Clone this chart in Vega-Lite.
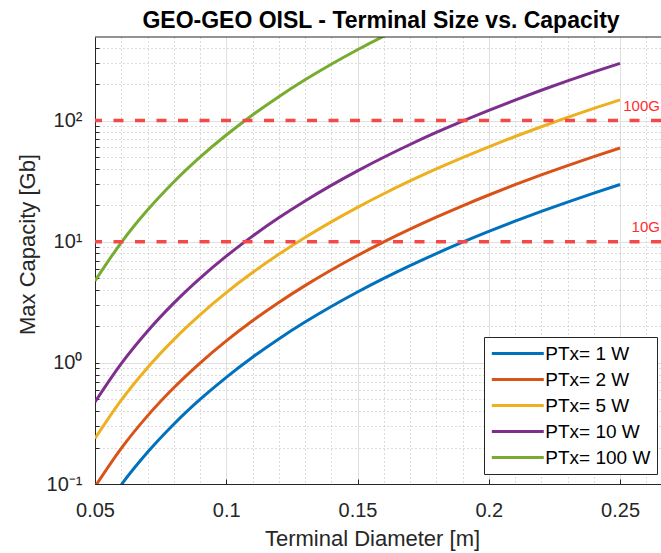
{
  "$schema": "https://vega.github.io/schema/vega-lite/v6.json",
  "width": 566,
  "height": 447,
  "autosize": {"type": "none"},
  "padding": {"left": 95, "top": 37, "right": 0, "bottom": 69},
  "background": "white",
  "title": {"text": "GEO-GEO OISL - Terminal Size vs. Capacity", "font": "Liberation Sans", "fontSize": 23, "fontWeight": "bold", "color": "#000000", "anchor": "middle", "frame": "group", "offset": 9, "baseline": "alphabetic", "dx": 3, "dy": 23},
  "config": {"view": {"stroke": null}, "font": "Liberation Sans", "axis": {"labelOverlap": false}},
  "resolve": {"axis": {"x": "independent", "y": "independent"}},
  "datasets": {
    "curves": [
      {"series": "PTx= 1 W", "D": 0.05, "C": 0.0475},
      {"series": "PTx= 1 W", "D": 0.06, "C": 0.0985},
      {"series": "PTx= 1 W", "D": 0.07, "C": 0.1825},
      {"series": "PTx= 1 W", "D": 0.08, "C": 0.3113},
      {"series": "PTx= 1 W", "D": 0.09, "C": 0.4986},
      {"series": "PTx= 1 W", "D": 0.10, "C": 0.76},
      {"series": "PTx= 1 W", "D": 0.11, "C": 1.1127},
      {"series": "PTx= 1 W", "D": 0.12, "C": 1.5759},
      {"series": "PTx= 1 W", "D": 0.13, "C": 2.1706},
      {"series": "PTx= 1 W", "D": 0.14, "C": 2.9196},
      {"series": "PTx= 1 W", "D": 0.15, "C": 3.8475},
      {"series": "PTx= 1 W", "D": 0.16, "C": 4.9807},
      {"series": "PTx= 1 W", "D": 0.17, "C": 6.3476},
      {"series": "PTx= 1 W", "D": 0.18, "C": 7.9782},
      {"series": "PTx= 1 W", "D": 0.19, "C": 9.9044},
      {"series": "PTx= 1 W", "D": 0.20, "C": 12.16},
      {"series": "PTx= 1 W", "D": 0.21, "C": 14.7806},
      {"series": "PTx= 1 W", "D": 0.22, "C": 17.8035},
      {"series": "PTx= 1 W", "D": 0.23, "C": 21.2679},
      {"series": "PTx= 1 W", "D": 0.24, "C": 25.215},
      {"series": "PTx= 1 W", "D": 0.25, "C": 29.6875},
      {"series": "PTx= 2 W", "D": 0.05, "C": 0.095},
      {"series": "PTx= 2 W", "D": 0.06, "C": 0.197},
      {"series": "PTx= 2 W", "D": 0.07, "C": 0.365},
      {"series": "PTx= 2 W", "D": 0.08, "C": 0.6226},
      {"series": "PTx= 2 W", "D": 0.09, "C": 0.9973},
      {"series": "PTx= 2 W", "D": 0.10, "C": 1.52},
      {"series": "PTx= 2 W", "D": 0.11, "C": 2.2254},
      {"series": "PTx= 2 W", "D": 0.12, "C": 3.1519},
      {"series": "PTx= 2 W", "D": 0.13, "C": 4.3413},
      {"series": "PTx= 2 W", "D": 0.14, "C": 5.8392},
      {"series": "PTx= 2 W", "D": 0.15, "C": 7.695},
      {"series": "PTx= 2 W", "D": 0.16, "C": 9.9615},
      {"series": "PTx= 2 W", "D": 0.17, "C": 12.695},
      {"series": "PTx= 2 W", "D": 0.18, "C": 15.956},
      {"series": "PTx= 2 W", "D": 0.19, "C": 19.809},
      {"series": "PTx= 2 W", "D": 0.20, "C": 24.32},
      {"series": "PTx= 2 W", "D": 0.21, "C": 29.561},
      {"series": "PTx= 2 W", "D": 0.22, "C": 35.607},
      {"series": "PTx= 2 W", "D": 0.23, "C": 42.536},
      {"series": "PTx= 2 W", "D": 0.24, "C": 50.43},
      {"series": "PTx= 2 W", "D": 0.25, "C": 59.375},
      {"series": "PTx= 5 W", "D": 0.05, "C": 0.2375},
      {"series": "PTx= 5 W", "D": 0.06, "C": 0.4925},
      {"series": "PTx= 5 W", "D": 0.07, "C": 0.9125},
      {"series": "PTx= 5 W", "D": 0.08, "C": 1.5565},
      {"series": "PTx= 5 W", "D": 0.09, "C": 2.493},
      {"series": "PTx= 5 W", "D": 0.10, "C": 3.8},
      {"series": "PTx= 5 W", "D": 0.11, "C": 5.5635},
      {"series": "PTx= 5 W", "D": 0.12, "C": 7.8795},
      {"series": "PTx= 5 W", "D": 0.13, "C": 10.853},
      {"series": "PTx= 5 W", "D": 0.14, "C": 14.598},
      {"series": "PTx= 5 W", "D": 0.15, "C": 19.2375},
      {"series": "PTx= 5 W", "D": 0.16, "C": 24.9035},
      {"series": "PTx= 5 W", "D": 0.17, "C": 31.738},
      {"series": "PTx= 5 W", "D": 0.18, "C": 39.891},
      {"series": "PTx= 5 W", "D": 0.19, "C": 49.522},
      {"series": "PTx= 5 W", "D": 0.20, "C": 60.8},
      {"series": "PTx= 5 W", "D": 0.21, "C": 73.903},
      {"series": "PTx= 5 W", "D": 0.22, "C": 89.0175},
      {"series": "PTx= 5 W", "D": 0.23, "C": 106.34},
      {"series": "PTx= 5 W", "D": 0.24, "C": 126.075},
      {"series": "PTx= 5 W", "D": 0.25, "C": 148.4375},
      {"series": "PTx= 10 W", "D": 0.05, "C": 0.475},
      {"series": "PTx= 10 W", "D": 0.06, "C": 0.985},
      {"series": "PTx= 10 W", "D": 0.07, "C": 1.825},
      {"series": "PTx= 10 W", "D": 0.08, "C": 3.113},
      {"series": "PTx= 10 W", "D": 0.09, "C": 4.986},
      {"series": "PTx= 10 W", "D": 0.10, "C": 7.6},
      {"series": "PTx= 10 W", "D": 0.11, "C": 11.127},
      {"series": "PTx= 10 W", "D": 0.12, "C": 15.759},
      {"series": "PTx= 10 W", "D": 0.13, "C": 21.706},
      {"series": "PTx= 10 W", "D": 0.14, "C": 29.196},
      {"series": "PTx= 10 W", "D": 0.15, "C": 38.475},
      {"series": "PTx= 10 W", "D": 0.16, "C": 49.807},
      {"series": "PTx= 10 W", "D": 0.17, "C": 63.476},
      {"series": "PTx= 10 W", "D": 0.18, "C": 79.782},
      {"series": "PTx= 10 W", "D": 0.19, "C": 99.044},
      {"series": "PTx= 10 W", "D": 0.20, "C": 121.6},
      {"series": "PTx= 10 W", "D": 0.21, "C": 147.806},
      {"series": "PTx= 10 W", "D": 0.22, "C": 178.035},
      {"series": "PTx= 10 W", "D": 0.23, "C": 212.679},
      {"series": "PTx= 10 W", "D": 0.24, "C": 252.15},
      {"series": "PTx= 10 W", "D": 0.25, "C": 296.875},
      {"series": "PTx= 100 W", "D": 0.05, "C": 4.75},
      {"series": "PTx= 100 W", "D": 0.06, "C": 9.85},
      {"series": "PTx= 100 W", "D": 0.07, "C": 18.25},
      {"series": "PTx= 100 W", "D": 0.08, "C": 31.13},
      {"series": "PTx= 100 W", "D": 0.09, "C": 49.86},
      {"series": "PTx= 100 W", "D": 0.10, "C": 76.0},
      {"series": "PTx= 100 W", "D": 0.11, "C": 111.27},
      {"series": "PTx= 100 W", "D": 0.12, "C": 157.59},
      {"series": "PTx= 100 W", "D": 0.13, "C": 217.06},
      {"series": "PTx= 100 W", "D": 0.14, "C": 291.96},
      {"series": "PTx= 100 W", "D": 0.15, "C": 384.75},
      {"series": "PTx= 100 W", "D": 0.16, "C": 498.07},
      {"series": "PTx= 100 W", "D": 0.17, "C": 634.76}
    ],
    "levels": [
      {"level": 100, "label": "100G"},
      {"level": 10, "label": "10G"}
    ]
  },
  "layer": [
    {
      "data": {"name": "curves"},
      "mark": {"type": "line", "clip": true, "strokeWidth": 3, "interpolate": "monotone"},
      "encoding": {
        "x": {
          "field": "D", "type": "quantitative", "title": "Terminal Diameter [m]",
          "scale": {"domain": [0.05, 0.2656], "nice": false, "zero": false},
          "axis": {
            "orient": "bottom",
            "values": [0.05, 0.06, 0.07, 0.08, 0.09, 0.1, 0.11, 0.12, 0.13, 0.14, 0.15, 0.16, 0.17, 0.18, 0.19, 0.2, 0.21, 0.22, 0.23, 0.24, 0.25, 0.26],
            "labelExpr": "abs(datum.value*20 - round(datum.value*20)) < 0.001 ? format(datum.value, '~g') : ''",
            "labelFontSize": 20, "labelColor": "#262626", "labelFlush": false, "labelOverlap": false, "labelSeparation": 0, "labelPadding": 21,
            "titleFontSize": 22, "titleColor": "#262626", "titleFontWeight": "normal", "titlePadding": 8, "titleX": 277,
            "domainColor": "#262626", "domainWidth": 1,
            "tickColor": "#262626", "tickSize": -5,
            "tickOpacity": {"condition": {"test": "abs(datum.value*20 - round(datum.value*20)) < 0.001", "value": 1}, "value": 0},
            "grid": true,
            "gridColor": {"condition": {"test": "abs(datum.value*20 - round(datum.value*20)) < 0.001", "value": "#DFDFDF"}, "value": "#B8B8B8"},
            "gridDash": {"condition": {"test": "abs(datum.value*20 - round(datum.value*20)) < 0.001", "value": []}, "value": [1, 3]},
            "gridWidth": 1
          }
        },
        "y": {
          "field": "C", "type": "quantitative", "title": "Max Capacity [Gb]",
          "scale": {"type": "log", "domain": [0.1, 490], "nice": false},
          "axis": {
            "orient": "left",
            "values": [0.1, 0.2, 0.3, 0.4, 0.5, 0.6, 0.7, 0.8, 0.9, 1, 2, 3, 4, 5, 6, 7, 8, 9, 10, 20, 30, 40, 50, 60, 70, 80, 90, 100, 200, 300, 400],
            "labelExpr": "datum.value == 100 ? '10²' : datum.value == 10 ? '10¹' : datum.value == 1 ? '10⁰' : datum.value == 0.1 ? '10⁻¹' : ''",
            "labelFontSize": 20, "labelColor": "#262626", "labelOverlap": false, "labelSeparation": 0, "labelFlush": false, "labelPadding": 17,
            "titleFontSize": 22, "titleColor": "#262626", "titleFontWeight": "normal", "titlePadding": 7, "titleY": 207,
            "domainColor": "#262626", "domainWidth": 1,
            "tickColor": "#262626", "tickSize": -4,
            "grid": true,
            "gridColor": {"condition": {"test": "abs(log(datum.value)/LN10 - round(log(datum.value)/LN10)) < 0.001", "value": "#DFDFDF"}, "value": "#B8B8B8"},
            "gridDash": {"condition": {"test": "abs(log(datum.value)/LN10 - round(log(datum.value)/LN10)) < 0.001", "value": []}, "value": [1, 3]},
            "gridWidth": 1
          }
        },
        "color": {
          "field": "series", "type": "nominal",
          "scale": {"domain": ["PTx= 1 W", "PTx= 2 W", "PTx= 5 W", "PTx= 10 W", "PTx= 100 W"], "range": ["#0072BD", "#D95319", "#EDB120", "#7E2F8E", "#77AC30"]},
          "legend": {
            "title": null, "orient": "none", "legendX": 389, "legendY": 300, "direction": "vertical",
            "symbolType": "M-3,0H3", "symbolSize": 300, "symbolStrokeWidth": 3, "symbolOffset": 17.3,
            "labelFontSize": 19, "labelColor": "#000000", "labelOffset": 17, "labelFont": "Liberation Sans",
            "padding": 6, "rowPadding": 5, "strokeColor": "#262626", "fillColor": "white"
          }
        }
      }
    },
    {
      "data": {"name": "levels"},
      "mark": {"type": "rule", "color": "#F54848", "strokeWidth": 3.5, "strokeDash": [10, 11.5]},
      "encoding": {"y": {"field": "level", "type": "quantitative", "axis": null}}
    },
    {
      "data": {"name": "levels"},
      "mark": {"type": "text", "color": "#FF2E2E", "fontSize": 15, "align": "right", "baseline": "alphabetic", "dy": -10, "font": "Liberation Sans"},
      "encoding": {
        "x": {"datum": 0.2652, "axis": null},
        "y": {"field": "level", "type": "quantitative", "axis": null},
        "text": {"field": "label"}
      }
    },
    {
      "data": {"values": [{}]},
      "mark": {"type": "rule", "color": "#262626", "strokeWidth": 1},
      "encoding": {"y": {"datum": 490, "axis": null}}
    }
  ]
}
